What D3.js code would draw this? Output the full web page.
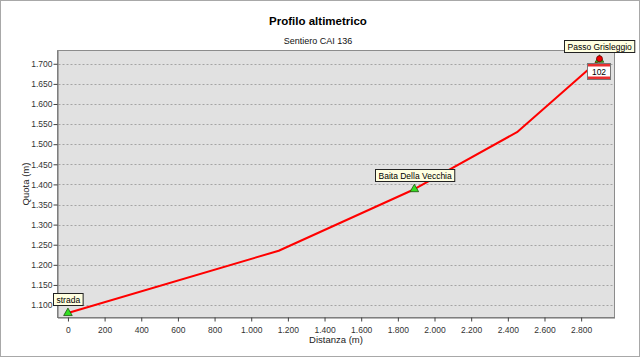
<!DOCTYPE html>
<html><head><meta charset="utf-8">
<script src="https://cdn.jsdelivr.net/npm/d3@7"></script>
<style>
html,body{margin:0;padding:0;background:#fff;}
svg{display:block;font-family:"Liberation Sans",Arial,sans-serif;}
</style></head>
<body><svg id="c" width="640" height="357"></svg>
<script>
// ---- data ----
const distances  = [0, 1150, 1890, 2450, 2900];
const elevations = [1080, 1235, 1388, 1530, 1710];
const wpNames = ["strada", "Baita Della Vecchia", "Passo Grisleggio"];
const wpDist  = [0, 1890, 2900];
const wpElev  = [1080, 1388, 1710];
const xTickValues = [0,200,400,600,800,1000,1200,1400,1600,1800,2000,2200,2400,2600,2800];
const yTickValues = [1100,1150,1200,1250,1300,1350,1400,1450,1500,1550,1600,1650,1700];
const signText = "102";
const title = "Profilo altimetrico";
const subtitle = "Sentiero CAI 136";
const xTitle = "Distanza (m)";
const yTitle = "Quota (m)";

const loc = d3.formatLocale({decimal:",", thousands:".", grouping:[3], currency:["€",""]});
const fmt = loc.format(",.0f");

const svg = d3.select("#c");
// outer frame
svg.append("rect").attr("x",0.5).attr("y",0.5).attr("width",639).attr("height",356)
  .attr("fill","#fff").attr("stroke","#a8a8a8").attr("stroke-width",1);

const L=57.5, R=614.5, T=50.5, B=317.5;
const x = d3.scaleLinear().domain([-57, 2982]).range([L, R]);
const y = d3.scaleLinear().domain([1069, 1733]).range([B, T]);

// plot background
svg.append("rect").attr("x",L).attr("y",T).attr("width",R-L).attr("height",B-T)
  .attr("fill","#e1e1e1").attr("stroke","#8c8c8c").attr("stroke-width",1);

// grid
svg.append("g").selectAll("line").data(yTickValues).join("line")
  .attr("x1",L+1).attr("x2",R-1)
  .attr("y1",d=>Math.round(y(d))+0.5).attr("y2",d=>Math.round(y(d))+0.5)
  .attr("stroke","#a4a4a4").attr("stroke-dasharray","2,2");

// axes
const xAxis = d3.axisBottom(x).tickValues(xTickValues).tickFormat(fmt).tickSize(4).tickSizeOuter(0);
const gx = svg.append("g").attr("transform",`translate(0,${B})`).call(xAxis);
gx.select(".domain").attr("stroke","#707070");
gx.selectAll(".tick line").attr("stroke","#404040");
gx.selectAll(".tick text").attr("fill","#333").attr("font-size","8.5px").attr("dy","1em")
  .attr("font-family","Liberation Sans, Arial, sans-serif");

const yAxis = d3.axisLeft(y).tickValues(yTickValues).tickFormat(fmt).tickSize(4).tickSizeOuter(0);
const gy = svg.append("g").attr("transform",`translate(${L},0)`).call(yAxis);
gy.select(".domain").attr("stroke","#707070");
gy.selectAll(".tick line").attr("stroke","#404040");
gy.selectAll(".tick text").attr("fill","#333").attr("font-size","8.5px").attr("x",-5)
  .attr("font-family","Liberation Sans, Arial, sans-serif");

// titles
svg.append("text").attr("x",318).attr("y",25).attr("text-anchor","middle")
  .attr("font-weight","bold").attr("font-size","11.5px").attr("fill","#000").text(title);
svg.append("text").attr("x",318).attr("y",44).attr("text-anchor","middle")
  .attr("font-size","9px").attr("fill","#111").text(subtitle);
svg.append("text").attr("x",(L+R)/2).attr("y",343).attr("text-anchor","middle")
  .attr("font-size","9.5px").attr("fill","#222").text(xTitle);
svg.append("text").attr("transform",`translate(29,${(T+B)/2}) rotate(-90)`).attr("text-anchor","middle")
  .attr("font-size","9.5px").attr("fill","#222").text(yTitle);

// profile line
const pts = distances.map((d,i)=>[d, elevations[i]]);
svg.append("path").datum(pts)
  .attr("d", d3.line().x(d=>x(d[0])).y(d=>y(d[1])))
  .attr("fill","none").attr("stroke","#ff0000").attr("stroke-width",2).attr("stroke-linejoin","round");

// waypoint markers
const wps = wpNames.map((n,i)=>({name:n, d:wpDist[i], e:wpElev[i], last:i===wpNames.length-1}));
const tri = d3.symbol().type(d3.symbolTriangle).size(32);
svg.append("g").selectAll("path").data(wps).join("path")
  .attr("transform",d=>`translate(${x(d.d)},${y(d.e)})`)
  .attr("d",tri).attr("fill","#33dd22").attr("stroke","#205010").attr("stroke-width",0.8);
svg.append("g").selectAll("circle").data(wps.filter(d=>d.last)).join("circle")
  .attr("cx",d=>x(d.d)).attr("cy",d=>y(d.e)-1).attr("r",3)
  .attr("fill","#ee0000").attr("stroke","#500").attr("stroke-width",0.7);

// sign 102
wps.filter(d=>d.last).forEach(d=>{
  const sx = Math.round(x(d.d))-11.5, sy = Math.round(y(d.e))+3.5, w=23, h=16;
  const g = svg.append("g");
  g.append("rect").attr("x",sx).attr("y",sy).attr("width",w).attr("height",h).attr("fill","#e83030").attr("stroke","#777");
  g.append("rect").attr("x",sx+0.5).attr("y",sy+3).attr("width",w-1).attr("height",h-6).attr("fill","#fff");
  g.append("text").attr("x",sx+w/2).attr("y",sy+h/2+3).attr("text-anchor","middle")
    .attr("font-size","8.5px").attr("fill","#000").text(signText);
});

// labels
const lg = svg.append("g");
wps.forEach(d=>{
  const px = x(d.d), py = y(d.e);
  const t = lg.append("text").attr("font-size","8.5px").attr("fill","#000").text(d.name);
  const w = t.node().getComputedTextLength()+6, h=12;
  const bx = Math.round(px - w/2)+0.5, by = Math.round(py - 8 - h)+0.5;
  lg.insert("rect", () => t.node()).attr("x",bx).attr("y",by).attr("width",w).attr("height",h)
    .attr("fill","#ffffe1").attr("stroke","#222").attr("stroke-width",1);
  t.attr("x",bx+3).attr("y",by+9);
});
</script></body></html>
